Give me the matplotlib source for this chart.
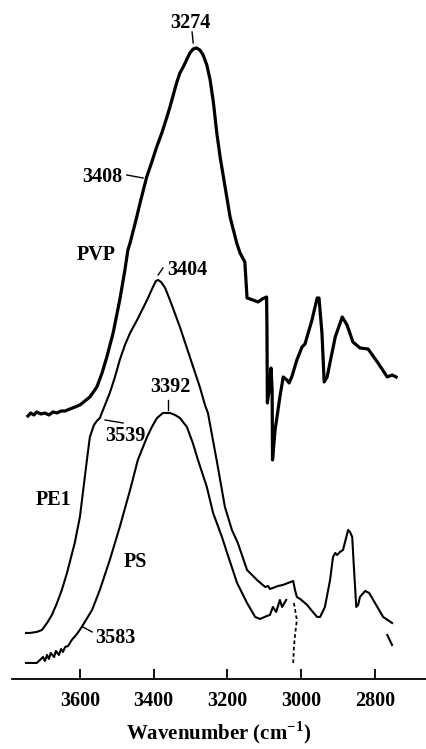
import matplotlib
matplotlib.use("Agg")
import matplotlib.pyplot as plt

plt.rcParams['font.family'] = ['Liberation Serif', 'DejaVu Serif']
plt.rcParams['font.weight'] = 'bold'
plt.rcParams['mathtext.fontset'] = 'custom'
plt.rcParams['mathtext.rm'] = 'Liberation Serif:bold'
plt.rcParams['mathtext.bf'] = 'Liberation Serif:bold'

# IR spectra (wavenumber in cm-1, absorbance in arbitrary offset units)
pvp_wn = [3741, 3733, 3725, 3717, 3706, 3695, 3684, 3673, 3662, 3651, 3640, 3627, 3613,
          3600, 3573, 3554, 3540, 3527, 3510, 3492, 3478, 3470, 3464, 3455, 3446, 3437,
          3428, 3419, 3406, 3392, 3378, 3365, 3356, 3347, 3338, 3329, 3320, 3311, 3302,
          3293, 3284, 3275, 3266, 3256, 3247, 3238, 3229, 3220, 3211, 3202, 3193, 3184,
          3175, 3166, 3153, 3147, 3131, 3117, 3106, 3094, 3093, 3092, 3087, 3082, 3079,
          3078, 3071, 3058, 3049, 3039, 3033, 3025, 3012, 2998, 2990, 2971, 2957, 2952,
          2944, 2938, 2930, 2908, 2889, 2876, 2860, 2841, 2819, 2792, 2767, 2754, 2743]
pvp_abs = [2.63, 2.66, 2.64, 2.67, 2.65, 2.66, 2.64, 2.67, 2.66, 2.68, 2.68, 2.70, 2.72,
           2.74, 2.82, 2.92, 3.06, 3.22, 3.46, 3.79, 4.09, 4.29, 4.36, 4.49, 4.62, 4.76,
           4.89, 5.02, 5.16, 5.32, 5.46, 5.61, 5.72, 5.84, 5.96, 6.06, 6.12, 6.19, 6.26,
           6.30, 6.31, 6.29, 6.24, 6.14, 5.99, 5.76, 5.46, 5.22, 5.02, 4.82, 4.62, 4.49,
           4.36, 4.26, 4.17, 3.81, 3.79, 3.77, 3.80, 3.82, 3.49, 2.76, 2.89, 3.11, 2.89,
           2.19, 2.49, 2.82, 3.02, 2.99, 2.96, 3.03, 3.19, 3.32, 3.35, 3.59, 3.81, 3.81,
           3.46, 2.97, 3.02, 3.42, 3.62, 3.54, 3.37, 3.31, 3.30, 3.16, 3.02, 3.04, 3.02]

pe1_wn = [3746, 3736, 3717, 3703, 3689, 3676, 3662, 3649, 3635, 3614, 3600, 3592, 3581,
          3573, 3562, 3554, 3546, 3532, 3519, 3505, 3492, 3478, 3464, 3445, 3418, 3402,
          3394, 3388, 3380, 3369, 3356, 3329, 3302, 3275, 3261, 3253, 3228, 3207, 3188,
          3172, 3147, 3120, 3098, 3090, 3085, 3077, 3063, 3050, 3036, 3022, 3017, 3012,
          3003, 2984, 2971, 2957, 2949, 2936, 2922, 2914, 2908, 2903, 2895, 2887, 2873,
          2868, 2862, 2857, 2851, 2846, 2841, 2827, 2816, 2805, 2778, 2754]
pe1_abs = [0.46, 0.46, 0.47, 0.49, 0.56, 0.64, 0.76, 0.89, 1.06, 1.36, 1.62, 1.86, 2.19,
           2.42, 2.54, 2.58, 2.61, 2.74, 2.86, 3.02, 3.19, 3.34, 3.46, 3.59, 3.79, 3.92,
           3.98, 3.99, 3.97, 3.91, 3.79, 3.52, 3.22, 2.92, 2.74, 2.66, 2.16, 1.72, 1.49,
           1.36, 1.09, 0.99, 0.92, 0.93, 0.90, 0.91, 0.93, 0.94, 0.96, 0.98, 0.89, 0.82,
           0.80, 0.74, 0.68, 0.62, 0.62, 0.72, 0.99, 1.22, 1.26, 1.24, 1.27, 1.29, 1.49,
           1.47, 1.42, 1.09, 0.72, 0.74, 0.82, 0.88, 0.86, 0.79, 0.62, 0.56]

ps_wn = [3746, 3736, 3717, 3708, 3700, 3695, 3689, 3684, 3679, 3670, 3665, 3657, 3651,
         3646, 3640, 3632, 3622, 3608, 3595, 3567, 3546, 3519, 3492, 3464, 3443, 3418,
         3405, 3391, 3375, 3356, 3342, 3329, 3310, 3294, 3280, 3256, 3239, 3215, 3201,
         3174, 3147, 3125, 3112, 3093, 3085, 3077, 3068, 3058, 3052, 3041]
ps_abs = [0.16, 0.16, 0.16, 0.19, 0.22, 0.18, 0.24, 0.20, 0.26, 0.22, 0.28, 0.24, 0.30,
          0.27, 0.32, 0.33, 0.39, 0.45, 0.52, 0.69, 0.89, 1.19, 1.52, 1.89, 2.19, 2.42,
          2.52, 2.61, 2.66, 2.66, 2.64, 2.61, 2.52, 2.36, 2.19, 1.92, 1.66, 1.42, 1.26,
          0.96, 0.76, 0.62, 0.60, 0.63, 0.64, 0.72, 0.67, 0.79, 0.72, 0.79]

# dashed continuation of PS
ps_dash_wn = [3020, 3012, 3017, 3020, 3022]
ps_dash_abs = [0.76, 0.59, 0.44, 0.32, 0.14]
ps_tail_wn = [2767, 2754]
ps_tail_abs = [0.44, 0.34]

# band labels: text, label position, leader line ends
band_text = ['3274', '3408', '3404', '3392', '3539', '3583']
band_pos = [(3302, 6.56), (3540, 5.02), (3364, 4.09), (3356, 2.92), (3478, 2.43), (3505, 0.41)]
band_ha = ['center', 'center', 'left', 'center', 'center', 'center']
leader_wn = [(3296, 3293), (3473, 3429), (3388, 3375), (3361, 3361), (3532, 3483), (3592, 3567)]
leader_abs = [(6.47, 6.36), (5.04, 5.01), (4.04, 4.11), (2.79, 2.69), (2.59, 2.56), (0.52, 0.47)]

series_names = ['PVP', 'PE1', 'PS']
series_pos = [(3557, 4.24), (3671, 1.79), (3451, 1.17)]

ticks = [3600, 3400, 3200, 3000, 2800]

fig = plt.figure(figsize=(4.26, 7.49), dpi=100)
ax = fig.add_axes([0.0282, 0.0935, 0.9718, 0.9065])

ax.plot(pvp_wn, pvp_abs, color='black', lw=2.3, solid_joinstyle='round')
ax.plot(pe1_wn, pe1_abs, color='black', lw=1.5, solid_joinstyle='round')
ax.plot(ps_wn, ps_abs, color='black', lw=1.5, solid_joinstyle='round')
ax.plot(ps_dash_wn, ps_dash_abs, color='black', lw=1.3, ls=(0, (2, 1.5)))
ax.plot(ps_tail_wn, ps_tail_abs, color='black', lw=1.5)

for t, (x, y), ha in zip(band_text, band_pos, band_ha):
    ax.text(x, y, t, ha=ha, va='center', fontsize=14.5, fontweight='bold')
for xs, ys in zip(leader_wn, leader_abs):
    ax.plot(xs, ys, color='black', lw=1.0)
for name, (x, y) in zip(series_names, series_pos):
    ax.text(x, y, name, ha='center', va='center', fontsize=14.5, fontweight='bold')

ax.set_xlim(3784, 2662)
ax.set_ylim(0, 6.79)
ax.set_xticks(ticks)
ax.tick_params(axis='x', direction='in', length=7, width=1.3, pad=9, labelsize=14.5)
ax.set_yticks([])
for s in ['top', 'left', 'right']:
    ax.spines[s].set_visible(False)
ax.spines['bottom'].set_linewidth(1.3)
ax.set_xlabel(r'Wavenumber (cm$^{\mathregular{-1}}$)', fontsize=15, fontweight='bold', labelpad=6)

fig.savefig('out.png', dpi=100)
